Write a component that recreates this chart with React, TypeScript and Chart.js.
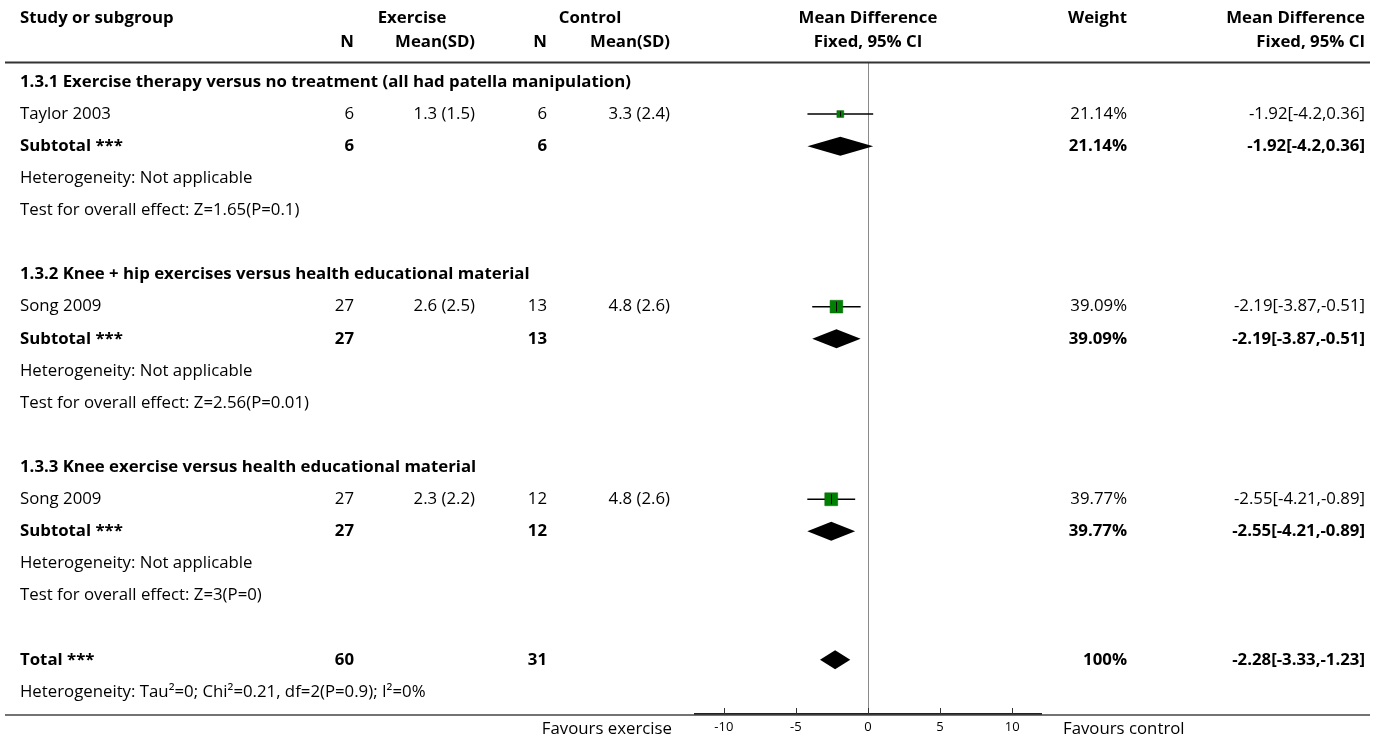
import React, { useEffect, useRef } from "react";
import { Chart, registerables } from "chart.js";

Chart.register(...registerables);

// ---- data ----
const subgroupTitles = [
  "1.3.1 Exercise therapy versus no treatment (all had patella manipulation)",
  "1.3.2 Knee + hip exercises versus health educational material",
  "1.3.3 Knee exercise versus health educational material",
];
const studyNames = ["Taylor 2003", "Song 2009", "Song 2009"];
const exerciseN = [6, 27, 27];
const exerciseMeanSD = ["1.3 (1.5)", "2.6 (2.5)", "2.3 (2.2)"];
const controlN = [6, 13, 12];
const controlMeanSD = ["3.3 (2.4)", "4.8 (2.6)", "4.8 (2.6)"];
const mdEstimate = [-1.92, -2.19, -2.55];
const mdLower = [-4.2, -3.87, -4.21];
const mdUpper = [0.36, -0.51, -0.89];
const weights = [21.14, 39.09, 39.77];
const heterogeneityNotes = [
  "Heterogeneity: Not applicable",
  "Heterogeneity: Not applicable",
  "Heterogeneity: Not applicable",
];
const overallEffectNotes = [
  "Test for overall effect: Z=1.65(P=0.1)",
  "Test for overall effect: Z=2.56(P=0.01)",
  "Test for overall effect: Z=3(P=0)",
];
const totalN = [60, 31];
const totalMD = [-2.28, -3.33, -1.23]; // estimate, lower, upper
const totalWeight = "100%";
const totalHeterogeneity = "Heterogeneity: Tau\u00b2=0; Chi\u00b2=0.21, df=2(P=0.9); I\u00b2=0%";
const xTickValues = [-10, -5, 0, 5, 10];
const xRange = [-12, 12];
const favoursLabels = ["Favours exercise", "Favours control"];

// ---- layout ----
const W = 1375;
const H = 738;
const FONT = '"Open Sans", sans-serif';
const FS = 16.8;
const ROWS_PER_GROUP = 6;
const TOTAL_ROW = 18;
const COL = { study: 20, expN: 354, expMean: 475, ctlN: 547, ctlMean: 670, weight: 1127, ci: 1365 };

const studyRow = (g: number) => g * ROWS_PER_GROUP + 1;
const fmtCI = (e: number, l: number, u: number) => `${e}[${l},${u}]`;

function put(
  ctx: CanvasRenderingContext2D,
  s: string,
  x: number,
  y: number,
  align: CanvasTextAlign,
  bold = false,
  size = FS
) {
  ctx.font = `${bold ? "bold " : ""}${size}px ${FONT}`;
  ctx.textAlign = align;
  ctx.textBaseline = "middle";
  ctx.fillStyle = "#000";
  ctx.fillText(s, x, y);
}

function diamond(ctx: CanvasRenderingContext2D, xs: any, py: number, e: number, l: number, u: number) {
  const half = 9.5;
  ctx.beginPath();
  ctx.moveTo(xs.getPixelForValue(l), py);
  ctx.lineTo(xs.getPixelForValue(e), py - half);
  ctx.lineTo(xs.getPixelForValue(u), py);
  ctx.lineTo(xs.getPixelForValue(e), py + half);
  ctx.closePath();
  ctx.fillStyle = "#000";
  ctx.fill();
}

const squareSide = (w: number) => w * 0.325;

const forestPlugin = {
  id: "forestTable",
  beforeDatasetsDraw(chart: any) {
    const ctx = chart.ctx as CanvasRenderingContext2D;
    const xs = chart.scales.x;
    const ys = chart.scales.y;
    ctx.save();
    ctx.strokeStyle = "#000";
    ctx.lineWidth = 1.5;
    for (let g = 0; g < studyNames.length; g++) {
      const py = ys.getPixelForValue(studyRow(g));
      ctx.beginPath();
      ctx.moveTo(xs.getPixelForValue(mdLower[g]), py);
      ctx.lineTo(xs.getPixelForValue(mdUpper[g]), py);
      ctx.stroke();
    }
    ctx.restore();
  },
  afterDatasetsDraw(chart: any) {
    const ctx = chart.ctx as CanvasRenderingContext2D;
    const xs = chart.scales.x;
    const ys = chart.scales.y;
    ctx.save();
    // centre marks on the study squares
    ctx.strokeStyle = "#000";
    ctx.lineWidth = 1;
    for (let g = 0; g < studyNames.length; g++) {
      const py = ys.getPixelForValue(studyRow(g));
      const px = Math.round(xs.getPixelForValue(mdEstimate[g])) + 0.5;
      const h = Math.max(2.5, squareSide(weights[g]) / 2 - 1.5);
      ctx.beginPath();
      ctx.moveTo(px, py - h);
      ctx.lineTo(px, py + h);
      ctx.stroke();
    }
    // subtotal and total diamonds
    for (let g = 0; g < studyNames.length; g++) {
      diamond(ctx, xs, ys.getPixelForValue(studyRow(g) + 1), mdEstimate[g], mdLower[g], mdUpper[g]);
    }
    diamond(ctx, xs, ys.getPixelForValue(TOTAL_ROW), totalMD[0], totalMD[1], totalMD[2]);
    ctx.restore();
  },
  afterDraw(chart: any) {
    const ctx = chart.ctx as CanvasRenderingContext2D;
    const xs = chart.scales.x;
    const ys = chart.scales.y;
    const area = chart.chartArea;
    const zeroX = xs.getPixelForValue(0);
    ctx.save();

    // column headers
    put(ctx, "Study or subgroup", COL.study, 18, "left", true);
    put(ctx, "Exercise", 412, 18, "center", true);
    put(ctx, "Control", 590, 18, "center", true);
    put(ctx, "Mean Difference", zeroX, 18, "center", true);
    put(ctx, "Weight", COL.weight, 18, "right", true);
    put(ctx, "Mean Difference", COL.ci, 18, "right", true);
    put(ctx, "N", COL.expN, 42, "right", true);
    put(ctx, "Mean(SD)", COL.expMean, 42, "right", true);
    put(ctx, "N", COL.ctlN, 42, "right", true);
    put(ctx, "Mean(SD)", COL.ctlMean, 42, "right", true);
    put(ctx, "Fixed, 95% CI", zeroX, 42, "center", true);
    put(ctx, "Fixed, 95% CI", COL.ci, 42, "right", true);

    // header and footer rules
    ctx.strokeStyle = "#333";
    ctx.lineWidth = 2;
    ctx.beginPath();
    ctx.moveTo(5, 62.5);
    ctx.lineTo(1370, 62.5);
    ctx.stroke();
    ctx.lineWidth = 1.5;
    ctx.strokeStyle = "#444";
    ctx.beginPath();
    ctx.moveTo(5, area.bottom + 1);
    ctx.lineTo(1370, area.bottom + 1);
    ctx.stroke();

    // upward tick marks on the effect axis
    ctx.strokeStyle = "#333";
    ctx.lineWidth = 1;
    for (const t of xs.ticks) {
      const px = Math.round(xs.getPixelForValue(t.value)) + 0.5;
      ctx.beginPath();
      ctx.moveTo(px, area.bottom);
      ctx.lineTo(px, area.bottom - 6);
      ctx.stroke();
    }

    // table body
    for (let g = 0; g < studyNames.length; g++) {
      const base = g * ROWS_PER_GROUP;
      const yTitle = ys.getPixelForValue(base);
      const yStudy = ys.getPixelForValue(base + 1);
      const ySub = ys.getPixelForValue(base + 2);
      const yHet = ys.getPixelForValue(base + 3);
      const yTest = ys.getPixelForValue(base + 4);
      put(ctx, subgroupTitles[g], COL.study, yTitle, "left", true);

      put(ctx, studyNames[g], COL.study, yStudy, "left");
      put(ctx, String(exerciseN[g]), COL.expN, yStudy, "right");
      put(ctx, exerciseMeanSD[g], COL.expMean, yStudy, "right");
      put(ctx, String(controlN[g]), COL.ctlN, yStudy, "right");
      put(ctx, controlMeanSD[g], COL.ctlMean, yStudy, "right");
      put(ctx, `${weights[g].toFixed(2)}%`, COL.weight, yStudy, "right");
      put(ctx, fmtCI(mdEstimate[g], mdLower[g], mdUpper[g]), COL.ci, yStudy, "right");

      put(ctx, "Subtotal ***", COL.study, ySub, "left", true);
      put(ctx, String(exerciseN[g]), COL.expN, ySub, "right", true);
      put(ctx, String(controlN[g]), COL.ctlN, ySub, "right", true);
      put(ctx, `${weights[g].toFixed(2)}%`, COL.weight, ySub, "right", true);
      put(ctx, fmtCI(mdEstimate[g], mdLower[g], mdUpper[g]), COL.ci, ySub, "right", true);

      put(ctx, heterogeneityNotes[g], COL.study, yHet, "left");
      put(ctx, overallEffectNotes[g], COL.study, yTest, "left");
    }
    const yTot = ys.getPixelForValue(TOTAL_ROW);
    put(ctx, "Total ***", COL.study, yTot, "left", true);
    put(ctx, String(totalN[0]), COL.expN, yTot, "right", true);
    put(ctx, String(totalN[1]), COL.ctlN, yTot, "right", true);
    put(ctx, totalWeight, COL.weight, yTot, "right", true);
    put(ctx, fmtCI(totalMD[0], totalMD[1], totalMD[2]), COL.ci, yTot, "right", true);
    put(ctx, totalHeterogeneity, COL.study, ys.getPixelForValue(TOTAL_ROW + 1), "left");

    // favours labels either side of the axis
    put(ctx, favoursLabels[0], 672, 729, "right");
    put(ctx, favoursLabels[1], 1063, 729, "left");
    ctx.restore();
  },
};

export default function App() {
  const ref = useRef<HTMLCanvasElement>(null);
  useEffect(() => {
    document.body.style.margin = "0";
    document.body.style.overflow = "hidden";
    const canvas = ref.current!;
    const chart = new Chart(canvas, {
      type: "scatter",
      data: {
        datasets: [
          {
            data: studyNames.map((_, g) => ({ x: mdEstimate[g], y: studyRow(g) })),
            pointStyle: "rect",
            backgroundColor: "#008000",
            borderColor: "#006000",
            borderWidth: 0.5,
            pointRadius: (c: any) => squareSide(weights[c.dataIndex]) / Math.SQRT2,
            pointHoverRadius: (c: any) => squareSide(weights[c.dataIndex]) / Math.SQRT2,
          },
        ],
      },
      options: {
        responsive: false,
        animation: false,
        events: [],
        layout: { padding: { left: 695, right: W - 1041, top: 63, bottom: 0 } },
        plugins: { legend: { display: false }, tooltip: { enabled: false } },
        scales: {
          x: {
            type: "linear",
            min: xRange[0],
            max: xRange[1],
            afterBuildTicks: (scale: any) => {
              scale.ticks = xTickValues.map((v) => ({ value: v }));
            },
            afterFit: (scale: any) => {
              scale.height = 24;
            },
            ticks: {
              font: { family: FONT, size: 13 },
              color: "#000",
              padding: 5,
              maxRotation: 0,
              autoSkip: false,
            },
            grid: {
              drawTicks: false,
              lineWidth: 1,
              color: (c: any) => (c.tick && c.tick.value === 0 ? "#8a8a8a" : "rgba(0,0,0,0)"),
            },
            border: { display: true, color: "#222", width: 2 },
          },
          y: {
            type: "linear",
            reverse: true,
            min: -0.59,
            max: 19.69,
            display: false,
          },
        },
      },
      plugins: [forestPlugin],
    } as any);
    return () => chart.destroy();
  }, []);
  return <canvas ref={ref} width={W} height={H} style={{ display: "block" }} />;
}
